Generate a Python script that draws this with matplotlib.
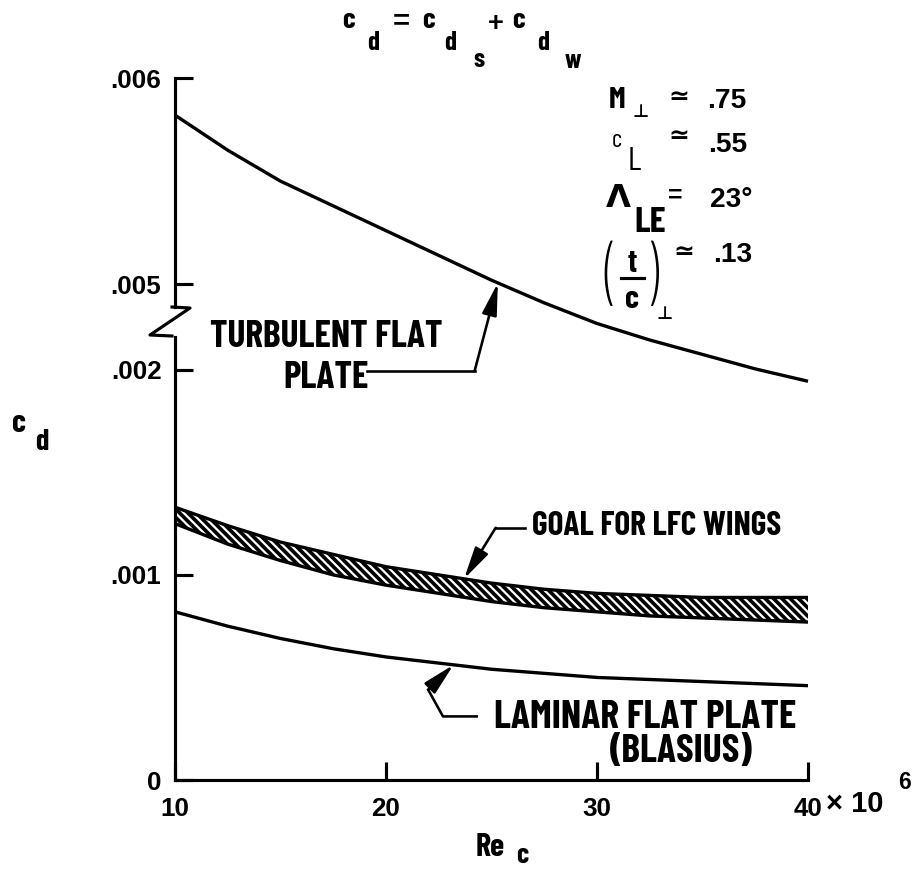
import matplotlib
matplotlib.use('Agg')
import matplotlib.pyplot as plt
from matplotlib.lines import Line2D
import numpy as np

# Reynolds number (x 10^6) and drag coefficients
re_c = [10, 12.5, 15, 17.5, 20, 22.5, 25, 27.5, 30, 32.5, 35, 37.5, 40]
cd_turbulent = [0.00582, 0.00565, 0.00550, 0.00538, 0.00526, 0.00514, 0.00502,
                0.00491, 0.00481, 0.00473, 0.00466, 0.00459, 0.00453]
cd_goal_hi = [0.00133, 0.00124, 0.00116, 0.00110, 0.00104, 0.00100, 0.00096,
              0.00093, 0.00091, 0.00090, 0.00089, 0.00089, 0.00089]
cd_goal_lo = [0.00125, 0.00115, 0.00107, 0.00100, 0.00095, 0.00091, 0.00087,
              0.00084, 0.00082, 0.00080, 0.00079, 0.00078, 0.00077]
cd_laminar = [0.00082, 0.00075, 0.00069, 0.00064, 0.00060, 0.00057, 0.00054,
              0.00052, 0.00050, 0.00049, 0.00048, 0.00047, 0.00046]

xticks = [10, 20, 30, 40]
xtick_labels = ['10', '20', '30', '40']
yticks_lo = [0, 0.001, 0.002]
ytick_labels_lo = ['0', '.001', '.002']
yticks_hi = [0.005, 0.006]
ytick_labels_hi = ['.005', '.006']

W, H, DPI = 918, 871, 75
COND = ['Barlow Condensed', 'DejaVu Sans']
NUM = ['Liberation Sans', 'DejaVu Sans']
SYM = ['DejaVu Sans']

plt.rcParams['hatch.linewidth'] = 3.5

def fx(px):
    return px / W

def fy(py):
    return 1 - py / H

fig = plt.figure(figsize=(W / DPI, H / DPI), dpi=DPI)

def put(s, px, py, size, fam=COND, weight='bold', ha='left', va='baseline'):
    fig.text(fx(px), fy(py), s, fontsize=size, family=fam, fontweight=weight,
             ha=ha, va=va)

def bar(px0, px1, py, lw=2.5):
    fig.add_artist(Line2D([fx(px0), fx(px1)], [fy(py), fy(py)],
                          transform=fig.transFigure, color='black', lw=lw))

# broken axis: lower panel 0-.002, upper panel .005-.006
ax_lo = fig.add_axes([fx(175), fy(780), (808 - 175) / W, (780 - 337) / H])
ax_hi = fig.add_axes([fx(175), fy(307), (808 - 175) / W, (307 - 78) / H])

for ax in (ax_lo, ax_hi):
    ax.set_xlim(10, 40)
    ax.patch.set_visible(False)
    for s in ('top', 'right'):
        ax.spines[s].set_visible(False)
    ax.spines['left'].set_linewidth(3)
    ax.tick_params(direction='in', length=17, width=3, pad=13)

ax_lo.spines['bottom'].set_linewidth(3)
ax_lo.set_ylim(0, 0.00216)
ax_lo.set_yticks(yticks_lo, ytick_labels_lo)
ax_lo.set_xticks(xticks, xtick_labels)
ax_lo.tick_params(axis='x', pad=16)

ax_hi.spines['bottom'].set_visible(False)
ax_hi.set_ylim(0.00489, 0.006)
ax_hi.set_yticks(yticks_hi, ytick_labels_hi)
ax_hi.set_xticks([])

for ax in (ax_lo, ax_hi):
    for lab in ax.get_xticklabels() + ax.get_yticklabels():
        lab.set_family(NUM)
        lab.set_fontweight('bold')
        lab.set_fontsize(25)

# curves
ax_hi.plot(re_c, cd_turbulent, color='black', lw=3.2, clip_on=False,
           solid_capstyle='butt')
ax_lo.fill_between(re_c, cd_goal_lo, cd_goal_hi, facecolor='white',
                   edgecolor='black', hatch='\\\\\\', lw=0)
ax_lo.plot(re_c, cd_goal_hi, color='black', lw=3.2, solid_capstyle='butt')
ax_lo.plot(re_c, cd_goal_lo, color='black', lw=3.2, solid_capstyle='butt')
ax_lo.plot(re_c, cd_laminar, color='black', lw=3.2, solid_capstyle='butt')

# axis break mark
fig.add_artist(Line2D([fx(172), fx(190), fx(150), fx(172)],
                      [fy(307), fy(308), fy(335), fy(336)],
                      transform=fig.transFigure, color='black', lw=3))

arrow = dict(arrowstyle='-|>,head_length=1.3,head_width=0.3', color='black',
             lw=2.5, mutation_scale=20, shrinkA=0, shrinkB=0)

# turbulent label and leader
put('TURBULENT FLAT', 210, 347, 36)
put('PLATE', 283, 388, 36)
x_t = 25.3
y_t = np.interp(x_t, re_c, cd_turbulent)
ax_hi.plot([19.1, 24.2], [0.00458, 0.00458], color='black', lw=2.5, clip_on=False)
ax_hi.annotate('', xy=(x_t, y_t), xytext=(24.2, 0.00458), arrowprops=arrow,
               annotation_clip=False)

# goal label and leader
put('GOAL FOR LFC WINGS', 532, 535, 32)
x_g = 23.7
y_g = np.interp(x_g, re_c, cd_goal_hi)
ax_lo.plot([26.6, 25.2], [0.00123, 0.00123], color='black', lw=2.5)
ax_lo.annotate('', xy=(x_g, y_g), xytext=(25.2, 0.00123), arrowprops=arrow)

# laminar label and leader
put('LAMINAR FLAT PLATE', 796, 728, 38, ha='right')
put('(BLASIUS)', 610, 762, 38)
x_l = 23.2
y_l = np.interp(x_l, re_c, cd_laminar)
ax_lo.plot([24.3, 22.7, 22.0], [0.00031, 0.00031, 0.00044], color='black', lw=2.5)
ax_lo.annotate('', xy=(x_l, y_l), xytext=(22.0, 0.00044), arrowprops=arrow)

# title: c_d = c_ds + c_dw
put('c', 342, 28, 28)
put('d', 367, 50, 26)
put('=', 393, 29, 28, fam=NUM)
put('c', 422, 28, 28)
put('d', 444, 50, 26)
put('s', 473, 67, 26)
put('+', 488, 31, 26, fam=NUM)
put('c', 512, 28, 28)
put('d', 537, 50, 26)
put('w', 565, 68, 26)

# flow conditions
put('M', 609, 108, 29)
put('\u22a5', 633, 117, 17, fam=SYM)
put('\u2243', 668, 104, 24, fam=SYM)
put('.75', 707, 108, 27, fam=NUM)

put('c', 612, 147, 24, weight='normal')
put('L', 628, 170, 32, weight='normal')
put('\u2243', 668, 143, 24, fam=SYM)
put('.55', 708, 152, 27, fam=NUM)

put('\u039b', 606, 207, 31)
put('LE', 634, 232, 35)
put('=', 668, 203, 24, fam=NUM)
put('23\u00b0', 710, 207, 27, fam=NUM)

# (t/c) normal to the leading edge
put('(', 611, 279, 72, weight='light', ha='center', va='center')
put(')', 651, 279, 72, weight='light', ha='center', va='center')
put('t', 632, 272, 31, ha='center')
bar(621, 644, 278, lw=3)
put('c', 632, 308, 31, ha='center')
put('\u22a5', 657, 319, 17, fam=SYM)
put('\u2243', 673, 259, 24, fam=SYM)
put('.13', 713, 262, 27, fam=NUM)

# axis labels
put('c', 12, 432, 31)
put('d', 35, 450, 29)
put('Re', 476, 856, 31)
put('c', 516, 868, 27, va='bottom')
put('\u00d7 10', 826, 812, 28, fam=NUM)
put('6', 898, 789, 22, fam=NUM)

fig.savefig('out.png', dpi=DPI)
